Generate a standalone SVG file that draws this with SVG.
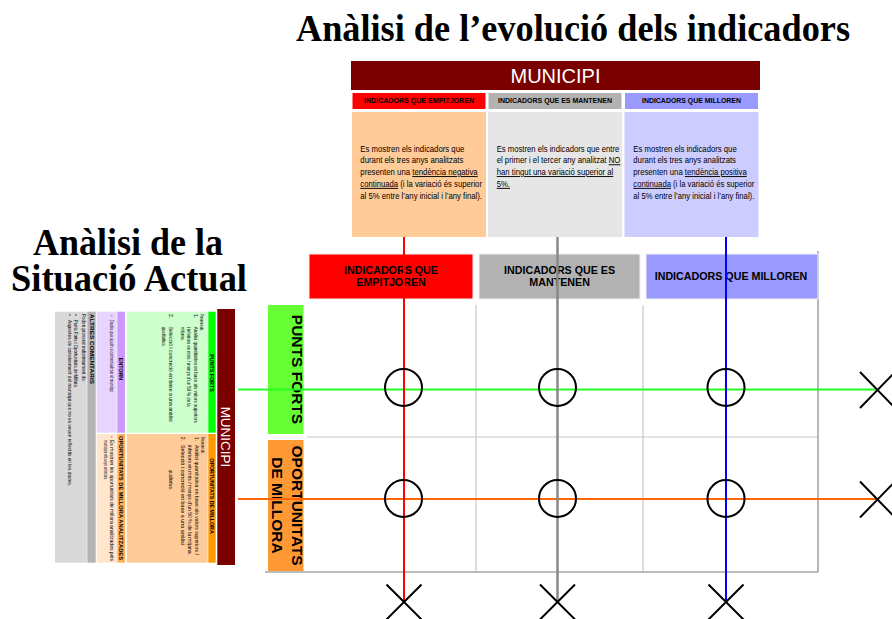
<svg xmlns="http://www.w3.org/2000/svg" width="892" height="619" viewBox="0 0 892 619">
<style>
.title{font-family:"Liberation Serif","Times New Roman",serif;font-weight:bold;font-size:38px;fill:#000}
.s{font-family:"Liberation Sans",Arial,sans-serif;fill:#000}
.b{font-family:"Liberation Sans",Arial,sans-serif;font-weight:bold;fill:#000}
.body{font-size:9.4px}
.hd{font-size:6.5px}
.gh{font-size:10.7px}
.rl{font-size:15.5px}
.tiny{font-size:5px}
.tinyb{font-size:5.3px}
.u{text-decoration:underline}
.grid{stroke:#c8c8c8;stroke-width:1.2;fill:none}
.gridd{stroke:#a6a6a6;stroke-width:1.6;fill:none}
.circ{fill:none;stroke:#000;stroke-width:2}
.x{stroke:#000;stroke-width:2;fill:none}
.cell{stroke:#ffffff;stroke-width:1}
</style>
<rect width="892" height="619" fill="#ffffff"/>

<!-- Titles -->
<g id="title-top">
<text class="title" x="296" y="41" textLength="554" lengthAdjust="spacingAndGlyphs">Anàlisi de l’evolució dels indicadors</text>
</g>
<g id="title-left">
<text class="title" x="33" y="255" textLength="190" lengthAdjust="spacingAndGlyphs">Anàlisi de la</text>
<text class="title" x="11" y="291" textLength="236" lengthAdjust="spacingAndGlyphs">Situació Actual</text>
</g>

<!-- Top table -->
<g id="top-table">
<rect x="351" y="61" width="409" height="29" fill="#7a0000"/>
<text class="s" x="555.5" y="83" font-size="20" style="fill:#fff" text-anchor="middle">MUNICIPI</text>
<rect class="cell" x="352" y="92.5" width="134" height="17" fill="#ff0000"/>
<rect class="cell" x="488" y="92.5" width="134" height="17" fill="#b2b2b2"/>
<rect class="cell" x="624.5" y="92.5" width="134" height="17" fill="#9999ff"/>
<text class="b hd" x="364" y="103" textLength="110" lengthAdjust="spacingAndGlyphs">INDICADORS QUE EMPITJOREN</text>
<text class="b hd" x="498" y="103" textLength="114" lengthAdjust="spacingAndGlyphs">INDICADORS QUE ES MANTENEN</text>
<text class="b hd" x="642" y="103" textLength="99" lengthAdjust="spacingAndGlyphs">INDICADORS QUE MILLOREN</text>
<rect x="352" y="112" width="134" height="125" fill="#ffcc99"/>
<rect x="488" y="112" width="134" height="125" fill="#e6e6e6"/>
<rect x="624.5" y="112" width="134" height="125" fill="#ccccff"/>
<text class="s body" x="360.3" y="151.5" textLength="104" lengthAdjust="spacingAndGlyphs">Es mostren els indicadors que</text>
<text class="s body" x="360.3" y="163.3" textLength="103" lengthAdjust="spacingAndGlyphs">durant els tres anys analitzats</text>
<text class="s body" x="360.3" y="175.1" textLength="117.4" lengthAdjust="spacingAndGlyphs">presenten una <tspan class="u">tendència negativa</tspan></text>
<text class="s body" x="360.3" y="186.9" textLength="121.7" lengthAdjust="spacingAndGlyphs"><tspan class="u">continuada</tspan> (i la variació és superior</text>
<text class="s body" x="360.3" y="198.7" textLength="121.7" lengthAdjust="spacingAndGlyphs">al 5% entre l’any inicial i l’any final).</text>
<text class="s body" x="496.7" y="151.5" textLength="122.6" lengthAdjust="spacingAndGlyphs">Es mostren els indicadors que entre</text>
<text class="s body" x="496.7" y="163.3" textLength="123.6" lengthAdjust="spacingAndGlyphs">el primer i el tercer any analitzat <tspan class="u">NO</tspan></text>
<text class="s body u" x="496.7" y="175.1" textLength="116.6" lengthAdjust="spacingAndGlyphs">han tingut una variació superior al</text>
<text class="s body u" x="496.7" y="186.9" textLength="13.3" lengthAdjust="spacingAndGlyphs">5%.</text>
<text class="s body" x="633.3" y="151.5" textLength="103.4" lengthAdjust="spacingAndGlyphs">Es mostren els indicadors que</text>
<text class="s body" x="633.3" y="163.3" textLength="102.7" lengthAdjust="spacingAndGlyphs">durant els tres anys analitzats</text>
<text class="s body" x="633.3" y="175.1" textLength="113.4" lengthAdjust="spacingAndGlyphs">presenten una <tspan class="u">tendència positiva</tspan></text>
<text class="s body" x="633.3" y="186.9" textLength="121" lengthAdjust="spacingAndGlyphs"><tspan class="u">continuada</tspan> (i la variació és superior</text>
<text class="s body" x="633.3" y="198.7" textLength="121" lengthAdjust="spacingAndGlyphs">al 5% entre l’any inicial i l’any final).</text>
</g>

<!-- Left rotated table -->
<g id="left-table" transform="translate(235,309) rotate(90)">
<rect x="0" y="0" width="256" height="17.7" fill="#7a0000"/>
<text class="s" x="128" y="14.3" font-size="13.5" style="fill:#fff" text-anchor="middle">MUNICIPI</text>
<rect x="2.7" y="19.3" width="121" height="7.4" fill="#00ff00"/>
<rect x="125" y="19.3" width="128.7" height="7.4" fill="#ff9900"/>
<rect x="2.7" y="27.3" width="121" height="81" fill="#ccffcc"/>
<rect x="125" y="27.3" width="128.7" height="81" fill="#ffcc99"/>
<rect x="2.7" y="110" width="121" height="7.7" fill="#cc99ff"/>
<rect x="125" y="110" width="128.7" height="7.7" fill="#ffb05a"/>
<rect x="2.7" y="118.3" width="121" height="20" fill="#e8d5ff"/>
<rect x="125" y="118.3" width="128.7" height="20" fill="#ffe6cc"/>
<rect x="2.7" y="139.3" width="251" height="8.4" fill="#b3b3b3"/>
<rect x="2.7" y="148.3" width="251" height="31.7" fill="#d9d9d9"/>
<text class="b tinyb" x="64" y="25" text-anchor="middle">PUNTS FORTS</text>
<text class="b tinyb" x="187" y="25" text-anchor="middle">OPORTUNITATS DE MILLORA</text>
<text class="s tiny" x="5" y="35" textLength="17" lengthAdjust="spacingAndGlyphs">Provenen de:</text>
<text class="s tiny" x="5" y="41.5">1.</text>
<text class="s tiny" x="17.7" y="41.5" textLength="96" lengthAdjust="spacingAndGlyphs">Anàlisi quantitativa en base als valors superiors</text>
<text class="s tiny" x="17.7" y="48" textLength="80" lengthAdjust="spacingAndGlyphs">i inferiors en més / menys d’un 50 % de la</text>
<text class="s tiny" x="17.7" y="54.5" textLength="14" lengthAdjust="spacingAndGlyphs">mitjana.</text>
<text class="s tiny" x="5" y="66">2.</text>
<text class="s tiny" x="17.7" y="66" textLength="95" lengthAdjust="spacingAndGlyphs">Selecció i concreció en base a una anàlisi</text>
<text class="s tiny" x="17.7" y="73" textLength="20" lengthAdjust="spacingAndGlyphs">qualitativa.</text>
<text class="s tiny" x="127.7" y="34" textLength="17" lengthAdjust="spacingAndGlyphs">Provenen de:</text>
<text class="s tiny" x="127.7" y="40.5">1.</text>
<text class="s tiny" x="136" y="40.5" textLength="110" lengthAdjust="spacingAndGlyphs">Anàlisi quantitativa en base als valors superiors /</text>
<text class="s tiny" x="136" y="47" textLength="110" lengthAdjust="spacingAndGlyphs">inferiors en més / menys d’un 50 % de la mitjana.</text>
<text class="s tiny" x="127.7" y="54.5">2.</text>
<text class="s tiny" x="136" y="54.5" textLength="100" lengthAdjust="spacingAndGlyphs">Selecció i concreció en base a una anàlisi</text>
<text class="s tiny" x="161" y="66" textLength="20" lengthAdjust="spacingAndGlyphs">qualitativa.</text>
<text class="b tinyb" x="60" y="116" text-anchor="middle">ENTORN</text>
<text class="b tiny" x="127" y="116" textLength="124" lengthAdjust="spacingAndGlyphs">OPORTUNITATS DE MILLORA ANALITZADES</text>
<text class="s tiny" x="5" y="125" style="fill:#9933ff">✓</text>
<text class="s tiny" x="11" y="125" textLength="72" lengthAdjust="spacingAndGlyphs">Dades que ajudin a contextualitzar el municipi</text>
<text class="s tiny" x="127" y="125" style="fill:#ff3300">•</text>
<text class="s tiny" x="131" y="125" textLength="121" lengthAdjust="spacingAndGlyphs">Es mostren les oportunitats de millora analitzades pels</text>
<text class="s tiny" x="131" y="131.5" textLength="40" lengthAdjust="spacingAndGlyphs">municipis els anys anteriors.</text>
<text class="b tinyb" x="5" y="145.5" textLength="70" lengthAdjust="spacingAndGlyphs">ALTRES COMENTARIS</text>
<text class="s tiny" x="5" y="153.5" textLength="68" lengthAdjust="spacingAndGlyphs">Poden provenir indistintament de:</text>
<text class="s tiny" x="5" y="161">•</text>
<text class="s tiny" x="11" y="161" textLength="68" lengthAdjust="spacingAndGlyphs">Punts Forts i Oportunitats de Millora.</text>
<text class="s tiny" x="5" y="167.5">•</text>
<text class="s tiny" x="11" y="167.5" textLength="166" lengthAdjust="spacingAndGlyphs">Aspectes de coneixement del municipi que no es veuen reflectits en les dades.</text>
</g>

<!-- Grid -->
<g id="grid">
<line class="grid" x1="476" y1="305" x2="476" y2="572"/>
<line class="grid" x1="643" y1="305" x2="643" y2="572"/>
<line class="grid" x1="307" y1="437" x2="818" y2="437"/>
<line class="gridd" x1="818" y1="251" x2="818" y2="572"/>
<line class="gridd" x1="265" y1="572" x2="818" y2="572"/>
</g>

<g id="col-empitjoren">
<rect x="309" y="254" width="164" height="45" fill="#ff0000" stroke="#f2f2f2" stroke-width="1"/>
<text class="b gh" x="391" y="274.3" text-anchor="middle">INDICADORS QUE</text>
<text class="b gh" x="391" y="286.3" text-anchor="middle">EMPITJOREN</text>
</g>
<g id="col-mantenen">
<rect x="479" y="254" width="161" height="45" fill="#b2b2b2" stroke="#f2f2f2" stroke-width="1"/>
<text class="b gh" x="559.6" y="274.3" text-anchor="middle">INDICADORS QUE ES</text>
<text class="b gh" x="559.6" y="286.3" text-anchor="middle">MANTENEN</text>
</g>
<g id="col-milloren">
<rect x="646" y="254" width="172" height="45" fill="#9999ff" stroke="#f2f2f2" stroke-width="1"/>
<text class="b gh" x="731" y="280.3" text-anchor="middle">INDICADORS QUE MILLOREN</text>
</g>
<g id="row-punts-forts">
<rect x="268" y="305" width="35.5" height="129" fill="#66ff33"/>
<text class="b rl" transform="translate(292,369.5) rotate(90)" text-anchor="middle">PUNTS FORTS</text>
</g>
<g id="row-oportunitats">
<rect x="268" y="440" width="35.5" height="131" fill="#ff9933"/>
<text class="b rl" transform="translate(292,505.5) rotate(90)" text-anchor="middle">OPORTUNITATS</text>
<text class="b rl" transform="translate(271.5,505.5) rotate(90)" text-anchor="middle">DE MILLORA</text>
</g>

<!-- Connectors -->
<g id="connectors">
<line x1="238" y1="389.5" x2="877" y2="389.5" stroke="#22ff22" stroke-width="2.2"/>
<line x1="238" y1="499" x2="877" y2="499" stroke="#ff6600" stroke-width="2"/>
<line x1="404" y1="237" x2="404" y2="602" stroke="#ff0000" stroke-width="2"/>
<line x1="557.5" y1="237" x2="557.5" y2="602" stroke="#888888" stroke-width="2.5"/>
<line x1="726" y1="237" x2="726" y2="602" stroke="#0000ff" stroke-width="2"/>
<path class="x" d="M386.5 584.5 L421.5 619.5 M421.5 584.5 L386.5 619.5"/>
<path class="x" d="M540 584.5 L575 619.5 M575 584.5 L540 619.5"/>
<path class="x" d="M708.5 584.5 L743.5 619.5 M743.5 584.5 L708.5 619.5"/>
<path class="x" d="M860 372 L895 408 M895 372 L860 408"/>
<path class="x" d="M860 481.5 L895 517.5 M895 481.5 L860 517.5"/>
</g>
<g id="intersections">
<ellipse class="circ" cx="403.5" cy="387.5" rx="18.5" ry="18.5"/>
<ellipse class="circ" cx="557.5" cy="387.5" rx="18.5" ry="18.5"/>
<ellipse class="circ" cx="726" cy="387.5" rx="18.5" ry="18.5"/>
<ellipse class="circ" cx="403.5" cy="498.5" rx="18.5" ry="18.5"/>
<ellipse class="circ" cx="557.5" cy="498.5" rx="18.5" ry="18.5"/>
<ellipse class="circ" cx="726" cy="498.5" rx="18.5" ry="18.5"/>
</g>
</svg>
